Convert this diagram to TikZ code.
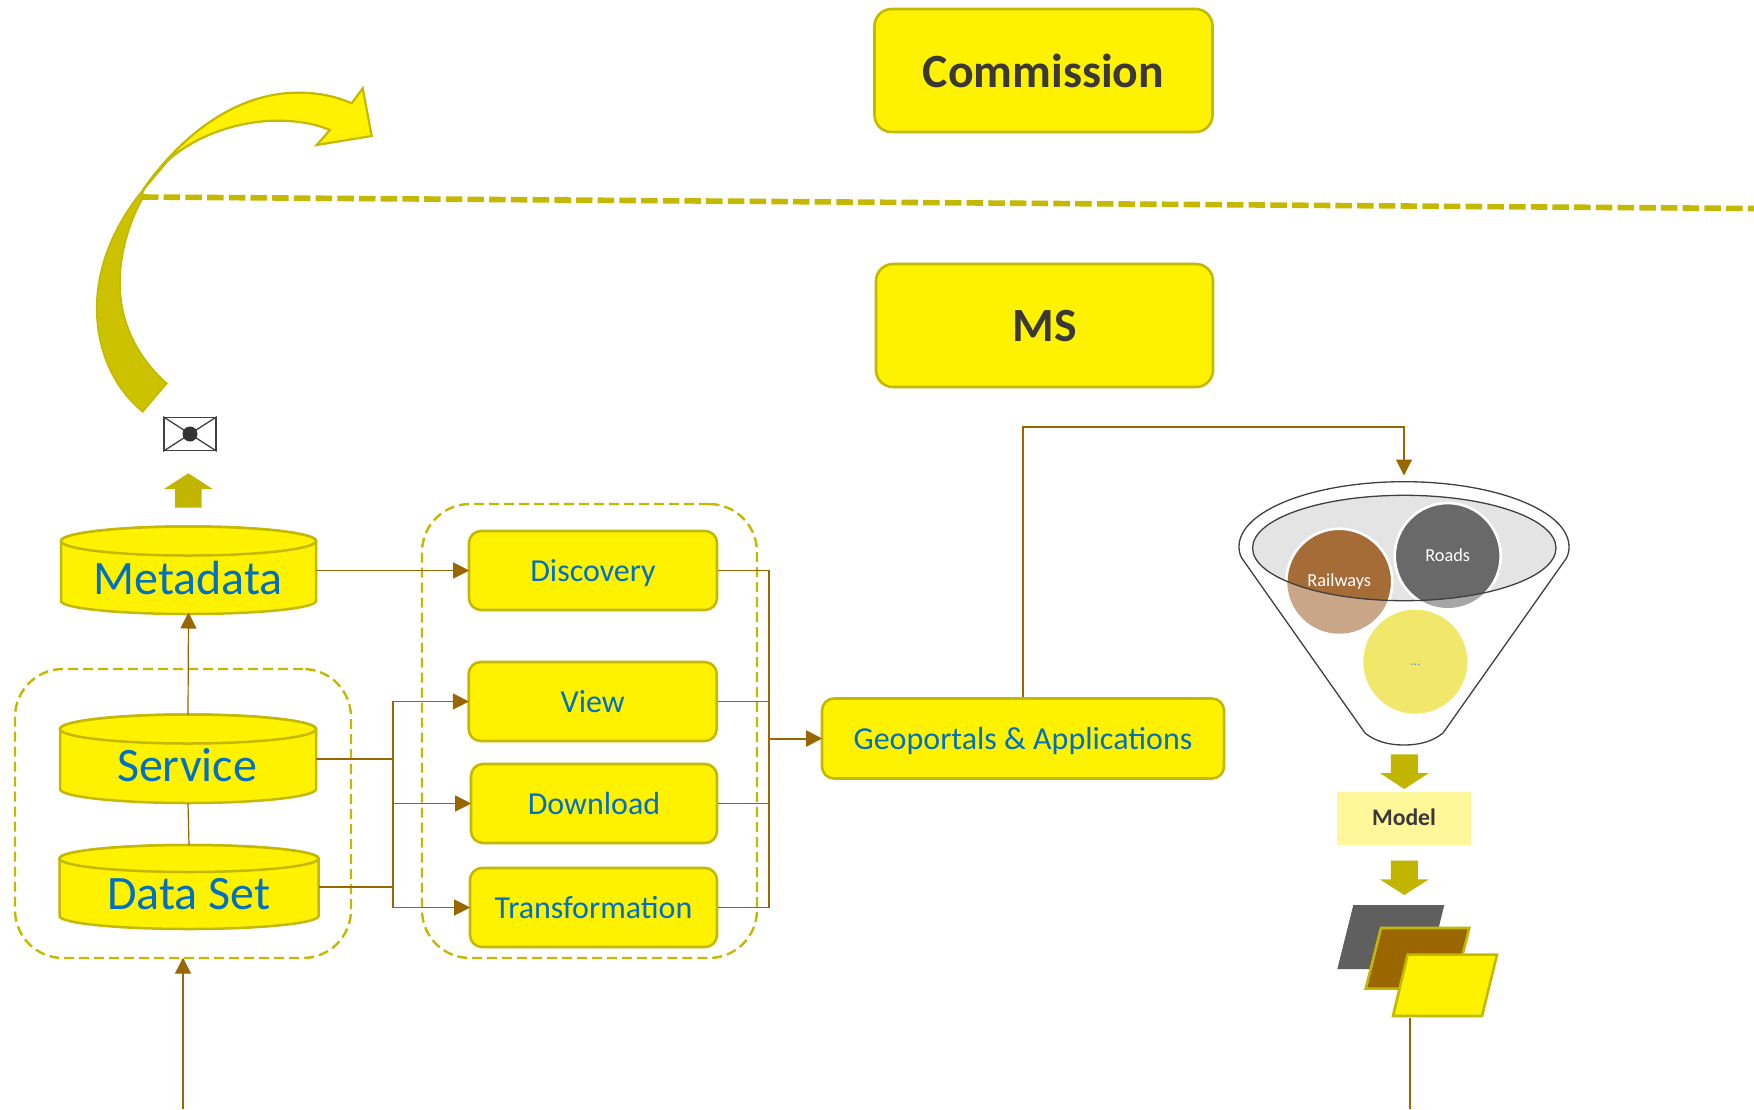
\documentclass[tikz,border=0pt]{standalone}
\usepackage{fontspec}
\setmainfont{Carlito}
\usetikzlibrary{arrows.meta}
\definecolor{yel}{HTML}{FFF200}
\definecolor{gold}{HTML}{C4B800}
\definecolor{blockc}{HTML}{C2B500}
\definecolor{darkyel}{HTML}{CCC200}
\definecolor{brn}{HTML}{996600}
\definecolor{bluetxt}{HTML}{0070C0}
\definecolor{darktxt}{HTML}{3B3838}
\definecolor{inkc}{HTML}{404040}
\definecolor{funnelgrey}{HTML}{E4E4E4}
\definecolor{raillight}{HTML}{C9A688}
\definecolor{raildark}{HTML}{A66C38}
\definecolor{roadlight}{HTML}{A6A6A6}
\definecolor{roaddark}{HTML}{696969}
\definecolor{othercirc}{HTML}{F1E76A}
\definecolor{dotsblue}{HTML}{5B9BD5}
\definecolor{modelfill}{HTML}{FFF799}
\definecolor{layergrey}{HTML}{5F5F5F}
\tikzset{
  boxn/.style={draw=gold,fill=yel,line width=2.6pt,rounded corners=12pt,inner sep=0pt,text=bluetxt,align=center},
  bigbox/.style={draw=gold,fill=yel,line width=2.6pt,rounded corners=17pt,inner sep=0pt,text=darktxt,font=\fontsize{47.7}{50}\selectfont\bfseries},
  group/.style={draw=gold,line width=2.4pt,dash pattern=on 10pt off 5pt,inner sep=0pt,rounded corners=48pt,fill=none},
  conn/.style={draw=brn,line width=1.2pt},
  arr/.style={conn,shorten >=-1.5pt,-{Triangle[length=16pt,width=16pt,color=brn]}},
  cyl/.style={draw=gold,fill=yel,line width=2.5pt},
  cyltext/.style={text=bluetxt,inner sep=0pt,anchor=base,font=\fontsize{48}{50}\selectfont},
  cylbox/.style={inner sep=0pt,outer sep=0pt},
  para/.style={draw=gold,line width=2.6pt,line join=miter},
  ink/.style={draw=inkc,line width=1.3pt},
  boxfont/.style={font=\fontsize{32}{34}\selectfont}
}
\newcommand{\boxtext}[1]{\raisebox{-11pt}[0pt][0pt]{#1}}
\newcommand{\bigtext}[1]{\raisebox{-16pt}[0pt][0pt]{#1}}
\newcommand{\cylshape}[6]{% xc, a, mid, ry, end, b
  \path[cyl] ({#1-#2},#3) -- ({#1-#2},#5) arc[start angle=180,end angle=360,x radius=#2 pt,y radius=#6 pt] -- ({#1+#2},#3) arc[start angle=0,end angle=180,x radius=#2 pt,y radius=#4 pt] -- cycle;
  \path[cyl] (#1,#3) ellipse[x radius=#2 pt,y radius=#4 pt];
}
\newcommand{\downblock}[4]{% xc, top, base, tip
  \fill[blockc] ({#1-13.5},#2) -- ({#1+13.5},#2) -- ({#1+13.5},#3) -- ({#1+24.5},#3) -- (#1,#4) -- ({#1-24.5},#3) -- ({#1-13.5},#3) -- cycle;
}
\begin{document}
\begin{tikzpicture}[x=1pt,y=-1pt]
\useasboundingbox (0,0) rectangle (1754,1109);
\fill[white] (0,0) rectangle (1754,1109);

% dashed groups
\node[group,minimum width=336pt,minimum height=289pt] (grp1) at (183,813.5) {};
\node[group,minimum width=335pt,minimum height=454pt] (grp2) at (589.5,731) {};

% curved arrow
\path[fill=darkyel,draw=gold,line width=1.6pt,line join=miter]
  (142.7,411.7) .. controls (110,385) and (96.7,345) .. (96.7,308)
  .. controls (96.7,262) and (118,220) .. (143,190) -- (166.7,161.7)
  .. controls (150,178) and (141,190) .. (141.7,200)
  .. controls (128,225) and (120,255) .. (120,283)
  .. controls (120,320) and (135,355) .. (166.7,383.3) -- cycle;
\path[fill=yel,draw=gold,line width=2.2pt,line join=miter]
  (143,190) .. controls (185,130) and (240,92.7) .. (298,92.7)
  .. controls (318,92.7) and (335,96) .. (351.7,103.3)
  -- (362.7,88.3) -- (371.7,136) -- (316.7,145) -- (330,130)
  .. controls (313,123) and (296,120.7) .. (276.7,120.7)
  .. controls (240,120.7) and (195,135) .. (166.7,161.7) -- cycle;

% dashed divider
\coordinate (divA) at (142,197);
\coordinate (divB) at (1754,208.5);
\draw[gold,line width=5.6pt,dash pattern=on 16.5pt off 5.2pt] (divA) -- (divB);

% envelope
\node[draw=inkc,fill=white,line width=1.6pt,minimum width=52pt,minimum height=33pt,inner sep=0pt] (env) at (190,434) {};
\draw[ink] (env.north west) -- (env.south east);
\draw[ink] (env.north east) -- (env.south west);
\fill[inkc!80!black] (env.center) circle[radius=7.5pt];

% up block arrow
\fill[blockc] (188.3,473.3) -- (212.7,489) -- (201.7,489) -- (201.7,507.7) -- (175,507.7) -- (175,489) -- (164,489) -- cycle;

% commission / MS
\node[bigbox,minimum width=338pt,minimum height=123pt] (comm) at (1043.5,70.5) {\raisebox{-16.5pt}[0pt][0pt]{Commission}};
\node[bigbox,minimum width=337pt,minimum height=123pt] (ms) at (1044.5,325.5) {\bigtext{MS}};

% cylinders
\cylshape{188.5}{127.5}{541}{14.5}{601}{13}
\node[cylbox,minimum width=255pt,minimum height=87pt] (meta) at (188.5,570.5) {};
\node[cyltext] (metaT) at (188,594) {Metadata};
\cylshape{188}{128}{729}{14.5}{789}{14}
\node[cylbox,minimum width=256pt,minimum height=88pt] (serv) at (188,759) {};
\node[cyltext] (servT) at (187,781) {Service};
\cylshape{189}{129.5}{858.5}{13.5}{916}{13}
\node[cylbox,minimum width=259pt,minimum height=84pt] (data) at (189,887) {};
\node[cyltext] (dataT) at (189,909) {Data Set};

% right-hand boxes
\node[boxn,boxfont,minimum width=248pt,minimum height=79pt] (disc) at (593,570.5) {\boxtext{Discovery}};
\node[boxn,boxfont,minimum width=248pt,minimum height=79pt] (view) at (592.7,701.5) {\boxtext{View}};
\node[boxn,boxfont,minimum width=246pt,minimum height=79pt] (down) at (594,803.5) {\boxtext{Download}};
\node[boxn,boxfont,minimum width=247pt,minimum height=79pt] (trans) at (593.5,907.5) {\boxtext{Transformation}};
\node[boxn,boxfont,minimum width=402pt,minimum height=80pt] (geo) at (1023,738.5) {\boxtext{Geoportals \& Applications}};

% connectors
\coordinate (busL) at (393,800);
\coordinate (busR) at (769,738.5);
\draw[arr] (meta.east) -- (disc.west);
\draw[arr] (serv.north) -- (meta.south);
\draw[conn] (serv.south) -- (data.north);
\draw[conn,line width=1.8pt] (serv.east) -| (busL);
\draw[conn,line width=1.8pt] (data.east) -| (busL);
\draw[arr] (busL) |- (view.west);
\draw[arr] (busL) |- (down.west);
\draw[arr] (busL) |- (trans.west);
\draw[conn] (disc.east) -| (busR);
\draw[conn] (view.east) -| (busR);
\draw[conn] (down.east) -| (busR);
\draw[conn] (trans.east) -| (busR);
\draw[arr,line width=2pt] (busR) -- (geo.west);
\coordinate (bendG) at (1404,427);
\coordinate (funnelTop) at (1404,474);
\draw[arr] (geo.north) |- (bendG) -- (funnelTop);
\coordinate (bottomL) at (183,1109);
\draw[arr] (bottomL) -- (grp1.south);

% funnel
\path[fill=white,ink]
  (1241.7,558) .. controls (1239.5,554) and (1239,550) .. (1239,546.7)
  arc[start angle=180,end angle=0,x radius=165pt,y radius=65pt]
  .. controls (1569,550) and (1568.5,554) .. (1566.5,558)
  -- (1443,733) .. controls (1432,742) and (1418,745) .. (1404,745)
  .. controls (1390,745) and (1376,742) .. (1365,733) -- cycle;
\fill[funnelgrey] (1404.3,548) ellipse[x radius=151.7pt,y radius=52.7pt];
\fill[raillight] (1339.3,581.7) circle[radius=52pt];
\fill[roadlight] (1447.7,556) circle[radius=52pt];
\begin{scope}
  \clip (1404.3,548) ellipse[x radius=151.7pt,y radius=52.7pt];
  \path[fill=raildark,draw=white,line width=2.6pt] (1339.3,581.7) circle[radius=53pt];
  \path[fill=roaddark,draw=white,line width=2.6pt] (1447.7,556) circle[radius=53pt];
\end{scope}
\draw[ink] (1404.3,548) ellipse[x radius=151.7pt,y radius=52.7pt];
\node[circle,fill=othercirc,minimum size=104pt,inner sep=0pt] (other) at (1415.3,661.7) {};
\node[text=dotsblue,font=\fontsize{14}{16}\selectfont,inner sep=0pt] (otherT) at (1415.3,665) {...};
\node[text=white,font=\fontsize{18.3}{20}\selectfont,inner sep=0pt] (railT) at (1339.3,582) {Railways};
\node[text=white,font=\fontsize{18.3}{20}\selectfont,inner sep=0pt] (roadT) at (1447.7,555.5) {Roads};

% down blocks and model
\downblock{1404.3}{754.3}{773}{789}
\node[fill=modelfill,minimum width=134pt,minimum height=53.7pt,inner sep=0pt,text=darktxt,font=\fontsize{23.7}{26}\selectfont\bfseries] (model) at (1404,818.5) {\raisebox{-7pt}[0pt][0pt]{Model}};
\downblock{1404.3}{860.7}{879.3}{895}

% layers
\fill[layergrey] (1353.3,905) -- (1444.3,905) -- (1428.3,969) -- (1337.3,969) -- cycle;
\path[para,fill=brn] (1381,928) -- (1469.3,928) -- (1454,988.6) -- (1365.7,988.6) -- cycle;
\path[para,fill=yel] (1407.7,954.6) -- (1497,954.6) -- (1482,1016) -- (1393,1016) -- cycle;
\coordinate (paraB) at (1410,1017.5);
\coordinate (bottomR) at (1410,1109);
\draw[conn] (paraB) -- (bottomR);
\end{tikzpicture}
\end{document}
